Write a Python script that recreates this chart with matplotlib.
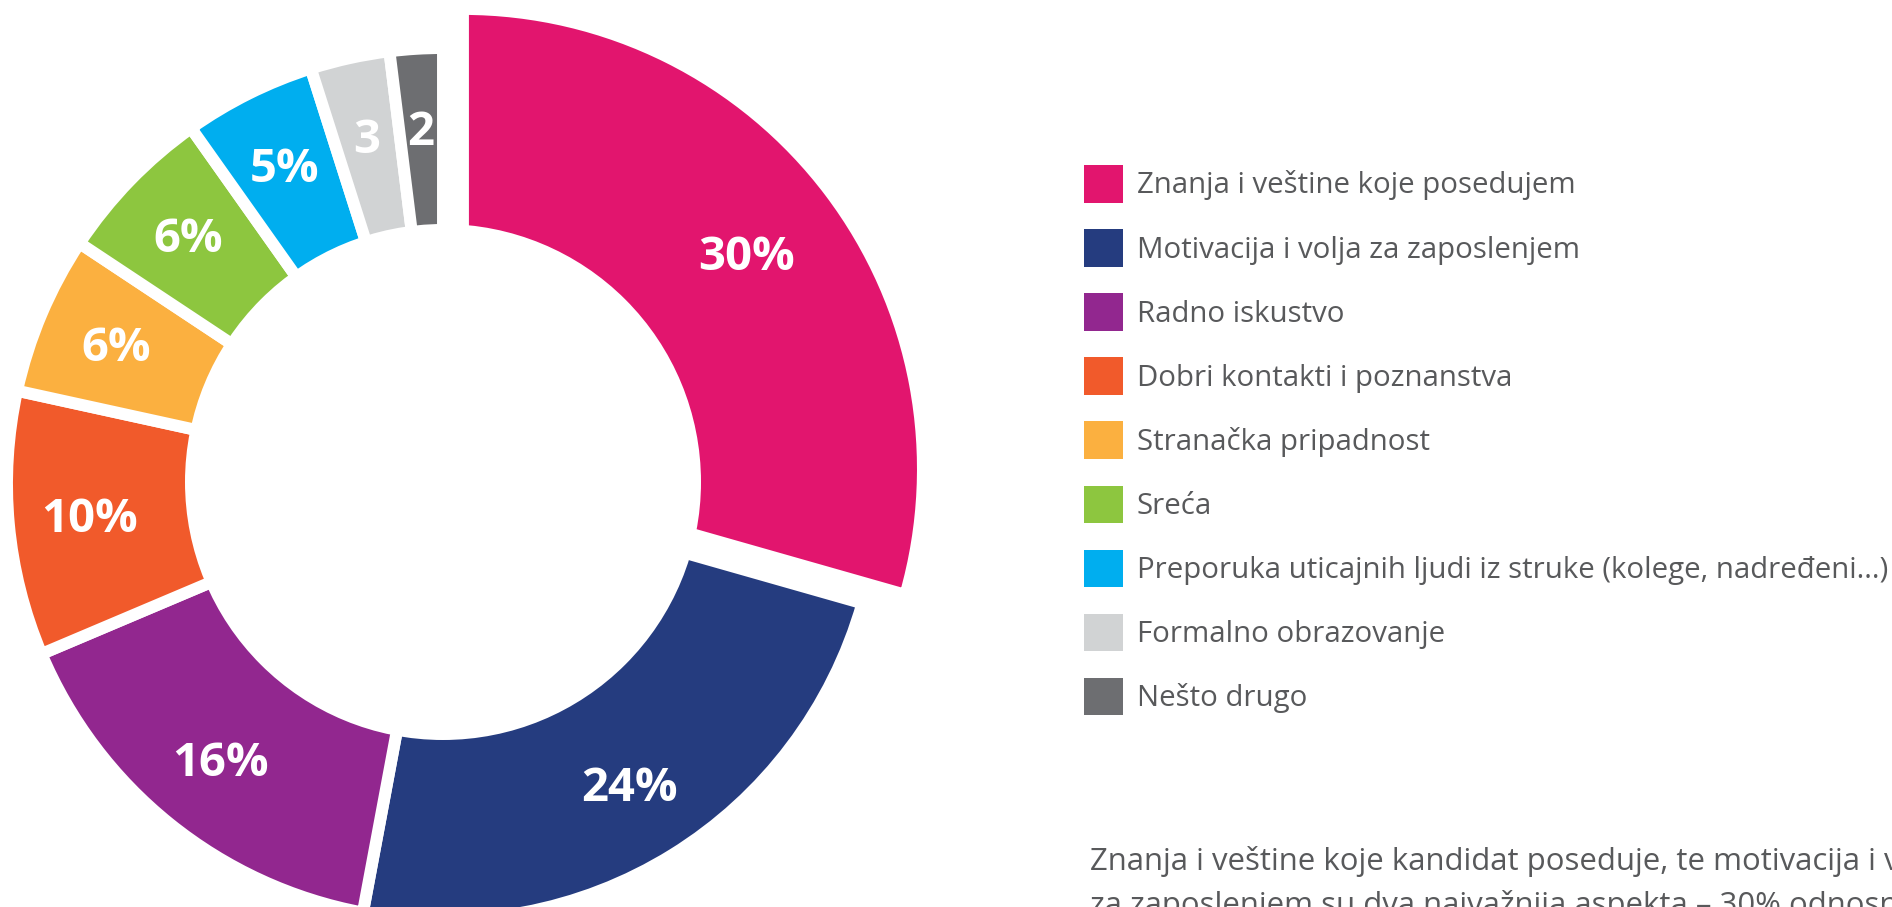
import matplotlib
matplotlib.use("Agg")
import matplotlib.pyplot as plt
from matplotlib.patches import Patch, Circle
import numpy as np

plt.rcParams['font.family'] = ['Open Sans', 'DejaVu Sans']

categories = [
    "Znanja i veštine koje posedujem",
    "Motivacija i volja za zaposlenjem",
    "Radno iskustvo",
    "Dobri kontakti i poznanstva",
    "Stranačka pripadnost",
    "Sreća",
    "Preporuka uticajnih ljudi iz struke (kolege, nadređeni...)",
    "Formalno obrazovanje",
    "Nešto drugo",
]
shares = [30, 24, 16, 10, 6, 6, 5, 3, 2]
slice_labels = ["30%", "24%", "16%", "10%", "6%", "6%", "5%", "3", "2"]
colors = ["#e2156e", "#253c7f", "#92278f", "#f15a2b", "#fbb040",
          "#8dc63f", "#00aeef", "#d1d3d4", "#6d6e71"]

note_lines = [
    "Znanja i veštine koje kandidat poseduje, te motivacija i volja",
    "za zaposlenjem su dva najvažnija aspekta – 30% odnosno 24%",
]

W, H = 1892, 907
TEXT_GRAY = "#58595b"

fig = plt.figure(figsize=(W / 100, H / 100), dpi=100)
ax = fig.add_axes([0, 0, 1, 1])

# axes work in pixel units, y pointing up
cx, cy = 443, H - 484
R = 436
# pie() takes explode in data units -> pixels here
explode = [25] + [0] * (len(shares) - 1)

wedges, _ = ax.pie(shares, colors=colors, radius=R, center=(cx, cy),
                   startangle=90, counterclock=False, explode=explode,
                   wedgeprops=dict(edgecolor="white", linewidth=8.6))
wedges[0].set_radius(460)  # biggest slice stands out a bit

# hole in the middle
ax.add_patch(Circle((cx, H - 482), 258, facecolor="white", edgecolor="none", zorder=5))

for w, lab in zip(wedges, slice_labels):
    mid = np.deg2rad((w.theta1 + w.theta2) / 2)
    x0, y0 = w.center
    ax.text(x0 + 355 * np.cos(mid), y0 - 3 + 355 * np.sin(mid), lab,
            ha="center", va="center", color="white", fontsize=34,
            fontweight="bold", zorder=6)

handles = [Patch(facecolor=c, edgecolor="none") for c in colors]
fs = 21.2
fpx = fs * 100 / 72
hh = (37.5 / fpx - 0.245) / 0.65
ax.legend(handles, categories, loc="upper left", bbox_to_anchor=(1084, H - 165),
          bbox_transform=ax.transData, frameon=False, fontsize=fs,
          borderpad=0, borderaxespad=0, handlelength=38.5 / fpx,
          handleheight=hh, handletextpad=14 / fpx,
          labelspacing=(64.1 - 37.5) / fpx, labelcolor=TEXT_GRAY)

for i, line in enumerate(note_lines):
    ax.text(1090, H - 870 - i * 44, line, color=TEXT_GRAY, fontsize=22.4,
            ha="left", va="baseline")

ax.set_xlim(0, W)
ax.set_ylim(0, H)
ax.set_aspect("equal")
ax.axis("off")

fig.savefig("out.png", dpi=100, facecolor="white")
